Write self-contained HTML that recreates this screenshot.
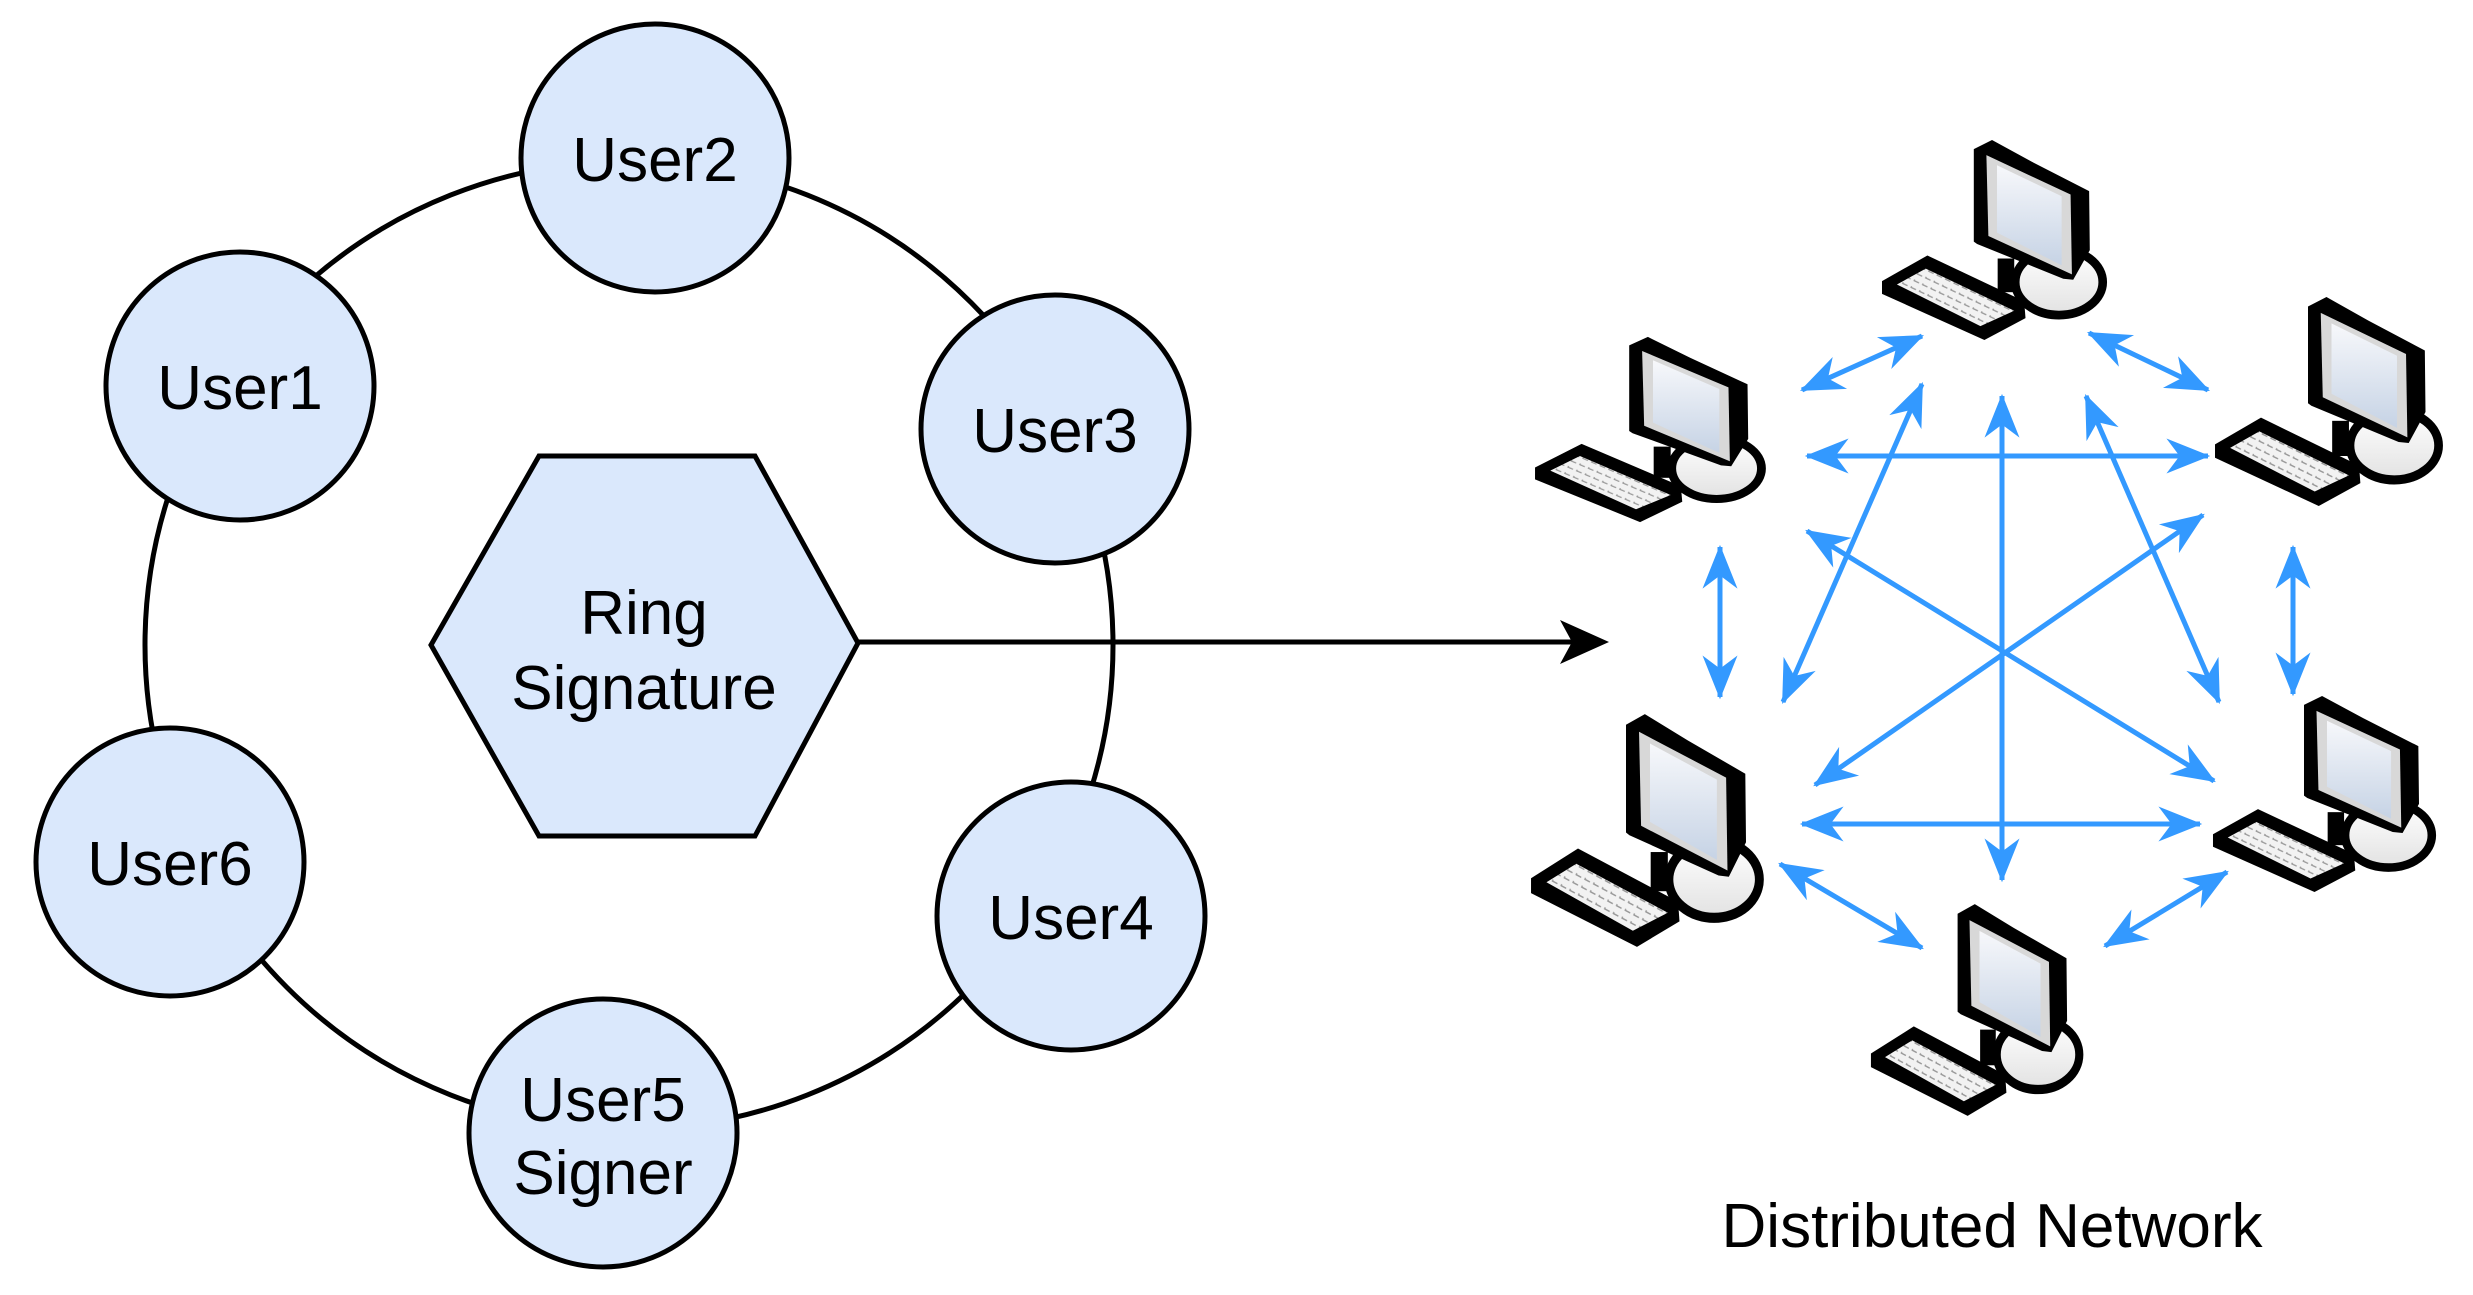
<!DOCTYPE html>
<html><head><meta charset="utf-8"><style>
html,body{margin:0;padding:0;background:#fff;}
svg{display:block;}
text{font-family:"Liberation Sans",Arial,sans-serif;fill:#000;}
</style></head><body>
<svg width="2473" height="1295" viewBox="0 0 2473 1295" xmlns="http://www.w3.org/2000/svg">
<defs>
<linearGradient id="scr" x1="0" y1="0" x2="0" y2="1"><stop offset="0" stop-color="#f7f8fb"/><stop offset="1" stop-color="#c6d3e5"/></linearGradient>
<linearGradient id="bs" x1="0" y1="0" x2="0" y2="1"><stop offset="0" stop-color="#ffffff"/><stop offset="1" stop-color="#e2e2e2"/></linearGradient>
<pattern id="keys" width="28" height="22" patternUnits="userSpaceOnUse" patternTransform="rotate(25)">
<rect width="28" height="22" fill="#f2f2f2"/><path d="M4 16 L4 20 L20 20" stroke="#9a9a9a" stroke-width="4" fill="none"/></pattern>
<symbol id="pc" viewBox="60 40 700 600" preserveAspectRatio="none">
<ellipse cx="597" cy="465" rx="132" ry="98" fill="url(#bs)" stroke="#000" stroke-width="26"/>
<rect x="412" y="395" width="50" height="100" fill="#000"/>
<polygon points="340,70 395,43 520,110 688,195 690,370 640,458 610,455 350,352 340,345" fill="#000"/>
<polygon points="378,88 632,205 636,442 384,328" fill="#d8d8d8"/>
<polygon points="410,118 605,210 605,415 410,318" fill="url(#scr)"/>
<polygon points="63,462 200,386 492,522 496,572 372,637 63,500" fill="#000"/>
<polygon points="108,472 195,425 462,550 360,596" fill="url(#keys)"/>
</symbol>
<marker id="ah" viewBox="0 0 20 16" refX="19" refY="8" markerWidth="9" markerHeight="7" orient="auto-start-reverse" markerUnits="strokeWidth">
<path d="M0,0 L20,8 L0,16 L6,8 Z" fill="#3399ff"/></marker>
</defs>

<circle cx="629" cy="645" r="484" fill="none" stroke="#000" stroke-width="5"/>
<polygon points="539,456 755,456 858,643 755,836 539,836 431,645" fill="#dae8fc" stroke="#000" stroke-width="5"/>
<text x="644" y="634" font-size="62" text-anchor="middle">Ring</text>
<text x="644" y="709" font-size="62" text-anchor="middle">Signature</text>

<g fill="#dae8fc" stroke="#000" stroke-width="5">
<circle cx="655" cy="158" r="134"/>
<circle cx="240" cy="386" r="134"/>
<circle cx="1055" cy="429" r="134"/>
<circle cx="170" cy="862" r="134"/>
<circle cx="1071" cy="916" r="134"/>
<circle cx="603" cy="1133" r="134"/>
</g>
<g font-size="62" text-anchor="middle">
<text x="655" y="181">User2</text>
<text x="240" y="409">User1</text>
<text x="1055" y="452">User3</text>
<text x="170" y="885">User6</text>
<text x="1071" y="939">User4</text>
<text x="603" y="1121">User5</text>
<text x="603" y="1194">Signer</text>
</g>

<line x1="858" y1="642" x2="1580" y2="642" stroke="#000" stroke-width="5"/>
<path d="M1609,642 L1560,620 L1572,642 L1560,664 Z" fill="#000"/>

<g stroke="#3399ff" stroke-width="5" fill="none" marker-start="url(#ah)" marker-end="url(#ah)">
<line x1="1802" y1="390" x2="1922" y2="336"/>
<line x1="2089" y1="333" x2="2208" y2="390"/>
<line x1="1807" y1="456" x2="2208" y2="456"/>
<line x1="1720" y1="547" x2="1720" y2="697"/>
<line x1="2293" y1="547" x2="2293" y2="694"/>
<line x1="1802" y1="824" x2="2200" y2="824"/>
<line x1="1780" y1="864" x2="1922" y2="948"/>
<line x1="2105" y1="946" x2="2227" y2="872"/>
<line x1="2002" y1="396" x2="2002" y2="880"/>
<line x1="1922" y1="384" x2="1783" y2="702"/>
<line x1="2086" y1="396" x2="2219" y2="702"/>
<line x1="1807" y1="531" x2="2214" y2="781"/>
<line x1="2203" y1="515" x2="1815" y2="785"/>
</g>

<use href="#pc" x="1881" y="139" width="232" height="202"/>
<use href="#pc" x="1534" y="336" width="238" height="187"/>
<use href="#pc" x="2214" y="296" width="235" height="211"/>
<use href="#pc" x="1530" y="713" width="240" height="235"/>
<use href="#pc" x="2212" y="695" width="230" height="198"/>
<use href="#pc" x="1870" y="903" width="219" height="214"/>

<text x="1992" y="1247" font-size="62" text-anchor="middle">Distributed Network</text>
</svg>
</body></html>
